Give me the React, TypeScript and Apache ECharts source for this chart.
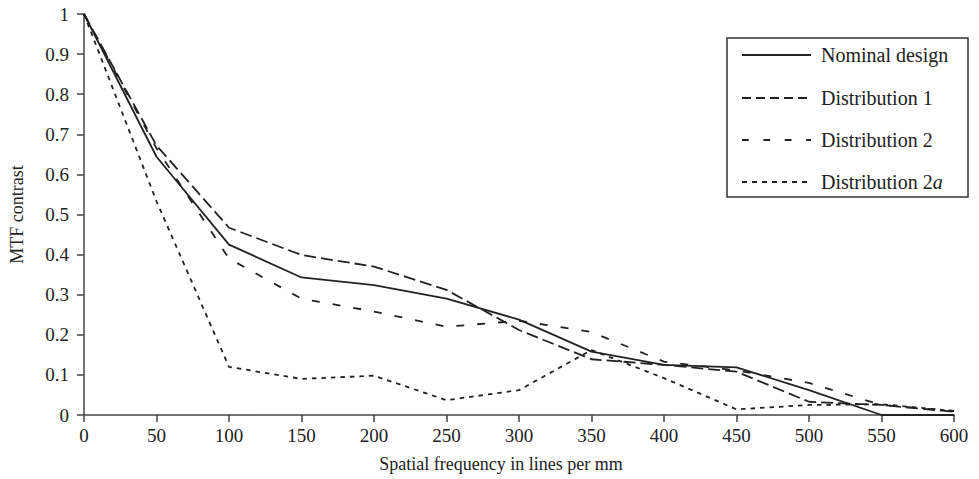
import React, { useEffect, useRef } from "react";
import * as echarts from "echarts";

const frequencies = [0, 50, 100, 150, 200, 250, 300, 350, 400, 450, 500, 550, 600];
const nominalDesign = [1, 0.644, 0.425, 0.343, 0.324, 0.29, 0.238, 0.158, 0.125, 0.119, 0.062, 0.0, 0.0];
const distribution1 = [1, 0.672, 0.467, 0.399, 0.37, 0.312, 0.212, 0.139, 0.125, 0.108, 0.033, 0.025, 0.008];
const distribution2 = [1, 0.665, 0.39, 0.29, 0.258, 0.22, 0.235, 0.207, 0.133, 0.111, 0.08, 0.025, 0.01];
const distribution2a = [1, 0.533, 0.12, 0.09, 0.098, 0.037, 0.062, 0.162, 0.092, 0.014, 0.025, 0.027, 0.01];
const seriesNames = ["Nominal design", "Distribution 1", "Distribution 2", "Distribution 2a"];

const FONT = "'Liberation Serif', 'DejaVu Serif', serif";
const INK = "#222";
const AXIS = "#444";

const plotDash: any[] = ["solid", [12, 5], [8, 13], [4.5, 5]];
const legendDash: any[] = [null, [9, 5], [6.7, 14.7], [5, 5]];

function pairs(ys: number[]) {
  return frequencies.map((x, i) => [x, ys[i]]);
}

export default function App() {
  const ref = useRef<HTMLDivElement>(null);
  useEffect(() => {
    if (!ref.current) return;
    const chart = echarts.init(ref.current, null, { renderer: "svg" });
    const mk = (name: string, ys: number[], type: any) => ({
      name,
      type: "line",
      data: pairs(ys),
      symbol: "none",
      lineStyle: { color: INK, width: 1.8, type },
      itemStyle: { color: INK },
    });
    const rowY = [55, 98, 140, 182];
    const legendItems: any[] = [];
    seriesNames.forEach((n, i) => {
      legendItems.push({
        type: "line",
        shape: { x1: 742, y1: rowY[i], x2: 811, y2: rowY[i] },
        style: { stroke: INK, lineWidth: 1.8, lineDash: legendDash[i] || undefined },
        z: 10,
      });
      legendItems.push({
        type: "text",
        x: 821,
        y: rowY[i],
        style: {
          text: n === "Distribution 2a" ? "Distribution 2{it|a}" : n,
          fontFamily: FONT,
          fontSize: 20,
          fill: INK,
          verticalAlign: "middle",
          align: "left",
          rich: { it: { fontFamily: FONT, fontSize: 20, fontStyle: "italic", fill: INK } },
        },
        z: 10,
      });
    });
    chart.setOption({
      animation: false,
      backgroundColor: "#fff",
      grid: { left: 84, top: 14, right: 25, bottom: 64 },
      graphic: [
        {
          type: "rect",
          shape: { x: 727, y: 38, width: 241, height: 159 },
          style: { fill: "#fff", stroke: "#333", lineWidth: 1.5 },
          z: 9,
        },
        ...legendItems,
      ],
      xAxis: {
        type: "value",
        min: 0,
        max: 600,
        interval: 50,
        name: "Spatial frequency in lines per mm",
        nameLocation: "middle",
        nameGap: 40,
        nameTextStyle: { fontFamily: FONT, fontSize: 18, color: INK, padding: [0, 36, 0, 0] },
        axisLine: { lineStyle: { color: AXIS, width: 1.5 } },
        axisTick: { show: true, length: 7, inside: false, lineStyle: { color: AXIS, width: 1.5 } },
        axisLabel: { fontFamily: FONT, fontSize: 19, color: INK, margin: 11 },
        splitLine: { show: false },
      },
      yAxis: {
        type: "value",
        min: 0,
        max: 1,
        interval: 0.1,
        name: "MTF contrast",
        nameLocation: "middle",
        nameGap: 58,
        nameTextStyle: { fontFamily: FONT, fontSize: 18, color: INK },
        axisLine: { show: true, lineStyle: { color: AXIS, width: 1.5 } },
        axisTick: { show: true, length: 7, inside: false, lineStyle: { color: AXIS, width: 1.5 } },
        axisLabel: { fontFamily: FONT, fontSize: 19, color: INK, margin: 15 },
        splitLine: { show: false },
      },
      series: seriesNames.map((n, i) =>
        mk(n, [nominalDesign, distribution1, distribution2, distribution2a][i], plotDash[i])
      ),
    });
    return () => chart.dispose();
  }, []);
  return (
    <div
      ref={ref}
      style={{ position: "absolute", left: 0, top: 0, width: 979, height: 479 }}
    />
  );
}
